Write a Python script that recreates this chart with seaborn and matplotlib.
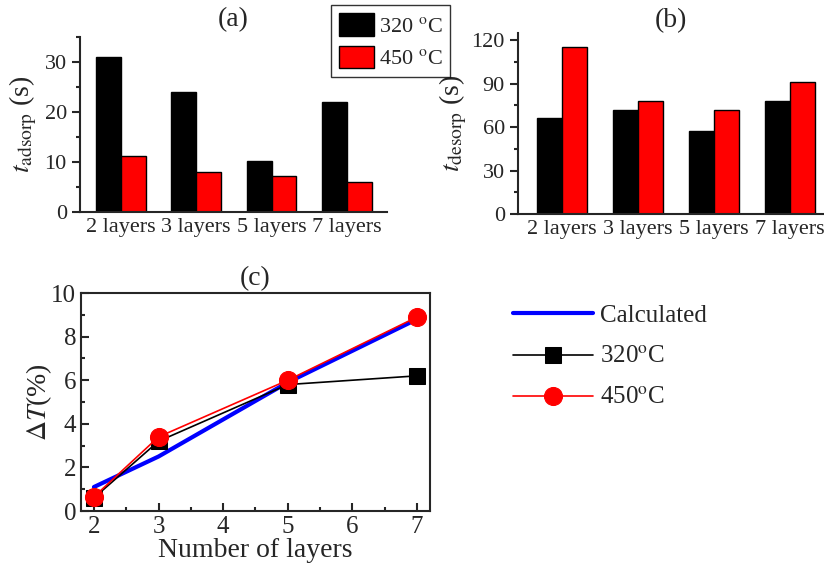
import pandas as pd
import numpy as np
import seaborn as sns
import matplotlib.pyplot as plt
from matplotlib.ticker import MultipleLocator
from matplotlib.patches import Patch

# bar data, panels (a) and (b)
layers_cat = ['2 layers', '3 layers', '5 layers', '7 layers']
temps = ['320 $^{\\rm o}$C', '450 $^{\\rm o}$C']
t_adsorp_320 = [31.0, 24.1, 10.2, 22.1]
t_adsorp_450 = [11.3, 8.1, 7.3, 6.0]
t_desorp_320 = [66, 72, 57, 78]
t_desorp_450 = [115, 78, 72, 91]

# line data, panel (c)
n_layers = [2, 3, 5, 7]
dT_calc = [1.1, 2.5, 5.9, 8.8]
dT_320 = [0.6, 3.2, 5.8, 6.2]
dT_450 = [0.65, 3.4, 6.0, 8.9]

sns.set_style('ticks')
plt.rcParams['font.family'] = ['Liberation Serif', 'DejaVu Serif']
plt.rcParams['mathtext.fontset'] = 'stix'
plt.rcParams['axes.linewidth'] = 1.5

bars_a = pd.DataFrame({'layers': layers_cat * 2,
                       'temp': [temps[0]] * 4 + [temps[1]] * 4,
                       'val': t_adsorp_320 + t_adsorp_450})
bars_b = pd.DataFrame({'layers': layers_cat * 2,
                       'temp': [temps[0]] * 4 + [temps[1]] * 4,
                       'val': t_desorp_320 + t_desorp_450})
pal = {temps[0]: 'black', temps[1]: 'red'}

W, H = 824, 566
fig = plt.figure(figsize=(W / 100, H / 100), dpi=100)

def ax_px(l, t, r, b):
    return fig.add_axes([l / W, 1 - b / H, (r - l) / W, (b - t) / H])

#(a)
ax1 = ax_px(80, 37, 387, 212)
sns.barplot(data=bars_a, x='layers', y='val', hue='temp', palette=pal,
            saturation=1, width=0.66, edgecolor='black', linewidth=1,
            ax=ax1, legend=False)
ax1.set_xlim(-0.54, 3.53)
ax1.set_ylim(0, 35)
ax1.yaxis.set_major_locator(MultipleLocator(10))
ax1.yaxis.set_minor_locator(MultipleLocator(5))
ax1.set_xlabel('')
ax1.set_ylabel(r'$t_{\rm adsorp}$ (s)', fontsize=20, labelpad=4)
ax1.tick_params(axis='y', labelsize=16, length=6, width=1.5)
ax1.tick_params(axis='y', which='minor', length=3, width=1.5)
ax1.tick_params(axis='x', labelsize=16, length=0, pad=4)
ax1.set_title('(a)', fontsize=20, pad=8)
sns.despine(ax=ax1)

#(b)
ax2 = ax_px(518, 33, 824, 214)
sns.barplot(data=bars_b, x='layers', y='val', hue='temp', palette=pal,
            saturation=1, width=0.66, edgecolor='black', linewidth=1,
            ax=ax2, legend=False)
ax2.set_xlim(-0.58, 3.45)
ax2.set_ylim(0, 125)
ax2.yaxis.set_major_locator(MultipleLocator(30))
ax2.yaxis.set_minor_locator(MultipleLocator(15))
ax2.set_xlabel('')
ax2.set_ylabel(r'$t_{\rm desorp}$ (s)', fontsize=20, labelpad=2)
ax2.tick_params(axis='y', labelsize=16, length=6, width=1.5)
ax2.tick_params(axis='y', which='minor', length=3, width=1.5)
ax2.tick_params(axis='x', labelsize=16, length=0, pad=4)
ax2.set_title('(b)', fontsize=20, pad=4)
sns.despine(ax=ax2)

handles = [Patch(facecolor=pal[t], edgecolor='black', label=t) for t in temps]
fig.legend(handles=handles, loc='upper left', bbox_to_anchor=(331 / W, 1 - 5 / H),
           fontsize=16, frameon=True, fancybox=False, edgecolor='black',
           handlelength=1.6, handleheight=1.2, handletextpad=0.2,
           labelspacing=0.4, borderpad=0.35, borderaxespad=0)

#(c)
ax3 = ax_px(81, 293, 430, 511)
sns.lineplot(x=n_layers, y=dT_calc, color='blue', linewidth=3, ax=ax3,
             label='Calculated')
sns.lineplot(x=n_layers, y=dT_320, color='black', linewidth=1.2, marker='s',
             markersize=11, markeredgecolor='black', ax=ax3,
             label='320$^{\\rm o}$C')
sns.lineplot(x=n_layers, y=dT_450, color='red', linewidth=1.2, marker='o',
             markersize=13, markeredgecolor='red', ax=ax3,
             label='450$^{\\rm o}$C')
ax3.set_xlim(1.8, 7.2)
ax3.set_ylim(0, 10)
ax3.xaxis.set_major_locator(MultipleLocator(1))
ax3.xaxis.set_minor_locator(MultipleLocator(0.5))
ax3.yaxis.set_major_locator(MultipleLocator(2))
ax3.yaxis.set_minor_locator(MultipleLocator(1))
ax3.tick_params(which='both', direction='in', labelsize=18, width=1.5)
ax3.tick_params(which='major', length=6)
ax3.tick_params(which='minor', length=3)
ax3.set_xlabel('Number of layers', fontsize=20, labelpad=0)
ax3.set_ylabel(r'$\Delta T$(%)', fontsize=20, labelpad=-2)
ax3.set_title('(c)', fontsize=20, pad=6)
h, l = ax3.get_legend_handles_labels()
ax3.get_legend().remove()
fig.legend(h, l, loc='upper left', bbox_to_anchor=(490 / W, 1 - 282 / H),
           fontsize=18, frameon=False, handlelength=3.2, handletextpad=0.3,
           labelspacing=0.75)

fig.savefig('out.png', dpi=100)
